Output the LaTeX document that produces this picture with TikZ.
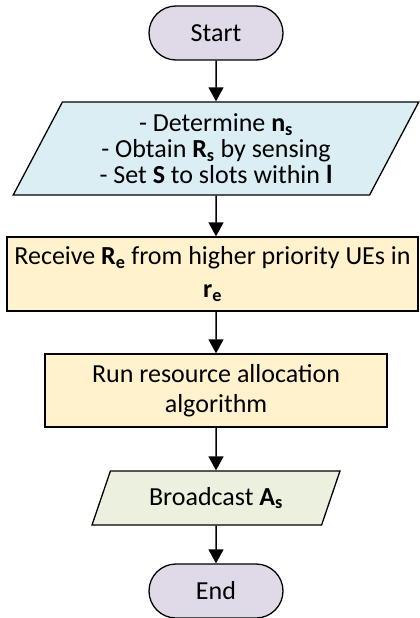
\documentclass[tikz,border=0pt]{standalone}
\usepackage{fontspec}
\setmainfont{Carlito}
\usetikzlibrary{arrows.meta,shapes.geometric}
\definecolor{termfill}{HTML}{E0DAE8}
\definecolor{inputfill}{HTML}{DAEEF3}
\definecolor{procfill}{HTML}{FFF2CC}
\definecolor{outfill}{HTML}{EBF1DE}
\newcommand{\bsub}[2]{\textbf{#1}\textsubscript{\textbf{#2}}}
\begin{document}
\begin{tikzpicture}[x=1pt,y=-1pt,
  base/.style={draw=black, line width=1.3pt, align=center, inner sep=0pt,
    font=\fontsize{26}{25}\selectfont},
  term/.style={base, fill=termfill, rounded corners=27pt,
    minimum width=134pt, minimum height=54pt},
  para/.style={base, trapezium, trapezium left angle=62,
    trapezium right angle=118, trapezium stretches=true},
  procbox/.style={base, rectangle, fill=procfill},
  flow/.style={line width=1.5pt, -{Triangle[width=15pt,length=14pt]}}]
\useasboundingbox (0,0) rectangle (420,618);
\node[term] (start) at (216,33) {Start};
\node[para, fill=inputfill, minimum width=406pt, minimum height=93pt,
  font=\fontsize{26}{26}\selectfont] (sense) at (216,148.5)
  {- Determine \bsub{n}{s}\\- Obtain \bsub{R}{s} by sensing\\- Set \textbf{S} to slots within \textbf{l}};
\node[procbox, minimum width=411pt, minimum height=74pt,
  font=\fontsize{26}{33}\selectfont] (recv) at (212.5,274)
  {Receive \bsub{R}{e} from higher priority UEs in\\\bsub{r}{e}};
\node[procbox, minimum width=342pt, minimum height=73pt,
  font=\fontsize{26}{30}\selectfont] (alloc) at (216,390.5)
  {Run resource allocation\\algorithm};
\node[para, fill=outfill, minimum width=248pt, minimum height=54pt] (bcast) at (216,498)
  {Broadcast \bsub{A}{s}};
\node[term] (end) at (216,591) {End};
\draw[flow] (start) -- (sense);
\draw[flow] (sense) -- (sense|-recv.north);
\draw[flow] (sense.south|-recv.south) -- (alloc);
\draw[flow] (alloc) -- (bcast);
\draw[flow] (bcast) -- (end);
\end{tikzpicture}
\end{document}
